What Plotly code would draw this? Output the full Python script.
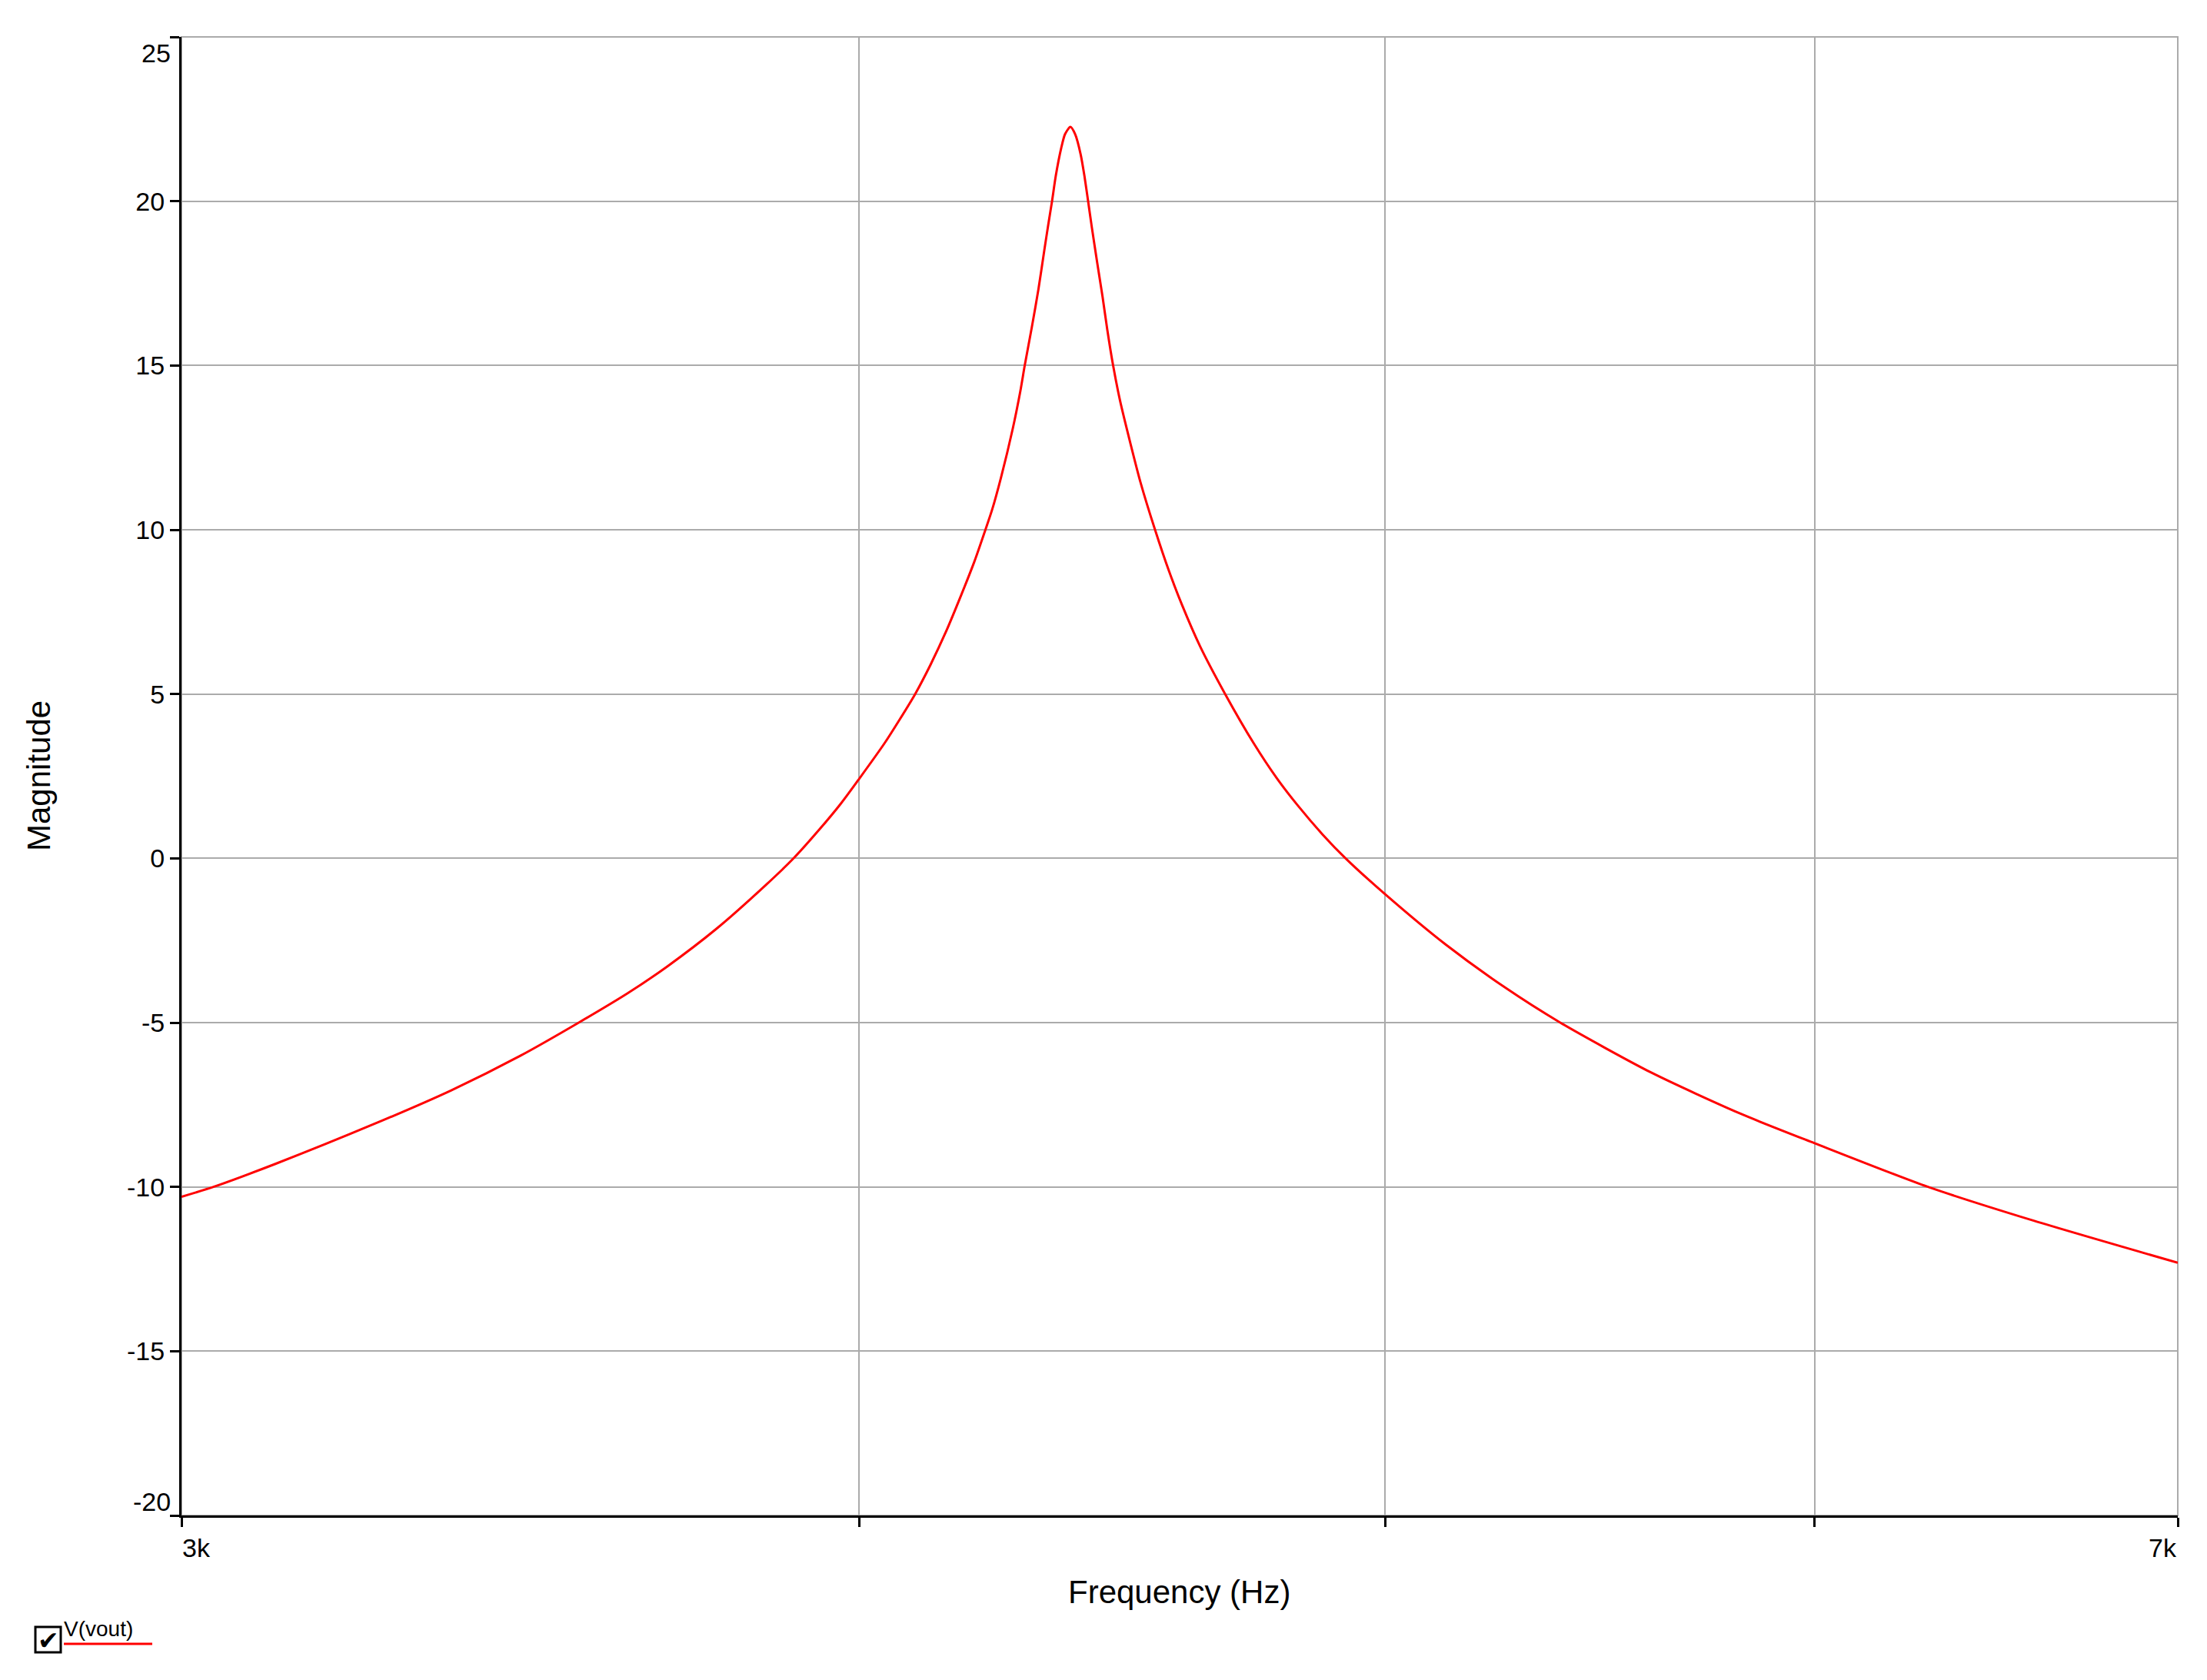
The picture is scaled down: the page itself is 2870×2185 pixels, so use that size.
import math
import plotly.graph_objects as go

# ---- data ----
freq_hz = [3000, 3041, 3122, 3254, 3364, 3464, 3551, 3626, 3687, 3765,
           3844, 3890, 3932, 3969, 3999, 4043, 4069, 4096, 4123, 4150,
           4177, 4200, 4220, 4232, 4248, 4269, 4283, 4291, 4304, 4316,
           4327, 4334, 4341, 4348, 4358, 4365, 4375, 4384, 4394, 4401,
           4408, 4415, 4425, 4435, 4444, 4455, 4468, 4488, 4507, 4535,
           4562, 4587, 4622, 4672, 4729, 4775, 4817, 4869, 4917, 5000,
           5130, 5260, 5386, 5598, 5812, 6000, 6296, 6585, 7000]
magnitude = [-10.3, -10.0, -9.3, -8.1, -7.06, -6.01, -5.0, -4.10, -3.29, -2.14,
             -0.82, 0.0, 0.86, 1.67, 2.40, 3.50, 4.22, 5.0, 5.90, 6.90,
             8.02, 9.02, 10.0, 10.61, 11.59, 13.06, 14.22, 15.0, 16.17, 17.32,
             18.53, 19.28, 20.0, 20.78, 21.62, 22.04, 22.26, 22.03, 21.43, 20.78,
             20.0, 19.20, 18.13, 17.10, 16.09, 15.0, 13.94, 12.62, 11.45, 10.0,
             8.74, 7.72, 6.47, 5.0, 3.50, 2.45, 1.63, 0.73, 0.0, -1.09,
             -2.62, -3.92, -5.0, -6.52, -7.76, -8.67, -10.0, -11.03, -12.31]

x_tick_vals = [3000, 4000, 5000, 6000, 7000]
x_edge_labels = ["3k", "7k"]
y_tick_vals = [-20, -15, -10, -5, 0, 5, 10, 15, 20, 25]
y_tick_text = ["", "-15", "-10", "-5", "0", "5", "10", "15", "20", ""]
y_edge_labels = ["25", "-20"]
series_name = "V(vout)"
x_title = "Frequency (Hz)"
y_title = "Magnitude"

# ---- figure geometry ----
W, H = 2870, 2185
ML, MR, MT, MB = 236, 38, 48, 214
PW = W - ML - MR
PH = H - MT - MB
FONT = "Liberation Sans, Arial, sans-serif"
GRID = "#ABABAB"


def px_x(px):
    return (px - ML) / PW


def px_y(py):
    return (H - MB - py) / PH


fig = go.Figure()
fig.add_trace(go.Scatter(
    x=freq_hz, y=magnitude, mode="lines", name=series_name,
    line=dict(color="#FF0000", width=3, shape="spline", smoothing=0.7),
    showlegend=False, hoverinfo="skip",
))

axis_common = dict(
    ticks="outside", ticklen=12, tickwidth=3, tickcolor="black",
    showgrid=True, gridcolor=GRID, gridwidth=2,
    showline=True, linecolor="black", linewidth=3,
    zeroline=False, fixedrange=True,
    tickfont=dict(family=FONT, size=34, color="black"),
)

fig.update_layout(
    width=W, height=H,
    margin=dict(l=ML, r=MR, t=MT, b=MB, pad=0),
    paper_bgcolor="white", plot_bgcolor="white",
    font=dict(family=FONT, color="black"),
    xaxis=dict(type="log",
               range=[math.log10(x_tick_vals[0]), math.log10(x_tick_vals[-1])],
               tickvals=x_tick_vals, ticktext=[""] * len(x_tick_vals),
               **axis_common),
    yaxis=dict(range=[y_tick_vals[0], y_tick_vals[-1]],
               tickvals=y_tick_vals, ticktext=y_tick_text,
               **axis_common),
    showlegend=False,
)

# plot border (top/right are grey in the reference)
fig.add_shape(type="rect", xref="paper", yref="paper", x0=0, x1=1, y0=0, y1=1,
              line=dict(color=GRID, width=2), layer="below")

tick_font = dict(family=FONT, size=34, color="black")
# edge tick labels, shifted inward as in the reference
fig.add_annotation(text=y_edge_labels[0], xref="paper", x=0, xanchor="right", xshift=-13,
                   yref="y", y=y_tick_vals[-1], yanchor="middle", yshift=-21,
                   showarrow=False, font=tick_font, borderpad=0)
fig.add_annotation(text=y_edge_labels[1], xref="paper", x=0, xanchor="right", xshift=-13,
                   yref="y", y=y_tick_vals[0], yanchor="middle", yshift=18,
                   showarrow=False, font=tick_font, borderpad=0)
fig.add_annotation(text=x_edge_labels[0], xref="x", x=math.log10(x_tick_vals[0]), xanchor="left",
                   yref="paper", y=0, yanchor="middle", yshift=-42,
                   showarrow=False, font=tick_font, borderpad=0)
fig.add_annotation(text=x_edge_labels[1], xref="x", x=math.log10(x_tick_vals[-1]), xanchor="right",
                   yref="paper", y=0, yanchor="middle", yshift=-42,
                   showarrow=False, font=tick_font, borderpad=0)

# axis titles
title_font = dict(family=FONT, size=42, color="black")
fig.add_annotation(text=x_title, xref="paper", x=px_x(1533.5), xanchor="center",
                   yref="paper", y=px_y(2070), yanchor="middle",
                   showarrow=False, font=title_font, borderpad=0)
fig.add_annotation(text=y_title, xref="paper", x=px_x(50), xanchor="center",
                   yref="paper", y=px_y(1009), yanchor="middle", textangle=-90,
                   showarrow=False, font=title_font, borderpad=0)

# legend-like checkbox entry
fig.add_shape(type="rect", xref="paper", yref="paper",
              x0=px_x(46), x1=px_x(79), y0=px_y(2149), y1=px_y(2116),
              line=dict(color="black", width=3), fillcolor="white")
fig.add_annotation(text="\u2714", xref="paper", x=px_x(62.5), xanchor="center",
                   yref="paper", y=px_y(2133), yanchor="middle",
                   showarrow=False, font=dict(family="DejaVu Sans", size=33, color="black"),
                   borderpad=0)
fig.add_annotation(text=series_name, xref="paper", x=px_x(82), xanchor="left",
                   yref="paper", y=px_y(2118), yanchor="middle",
                   showarrow=False, font=dict(family=FONT, size=28, color="black"),
                   borderpad=0)
fig.add_shape(type="line", xref="paper", yref="paper",
              x0=px_x(83), x1=px_x(198), y0=px_y(2138), y1=px_y(2138),
              line=dict(color="#FF0000", width=3))

# remove the default 8px page margin so the figure sits at the window origin
fig.write_html("out.html",
               config={"displayModeBar": False, "staticPlot": True},
               post_script="document.body.style.margin='0';document.body.style.overflow='hidden';")
